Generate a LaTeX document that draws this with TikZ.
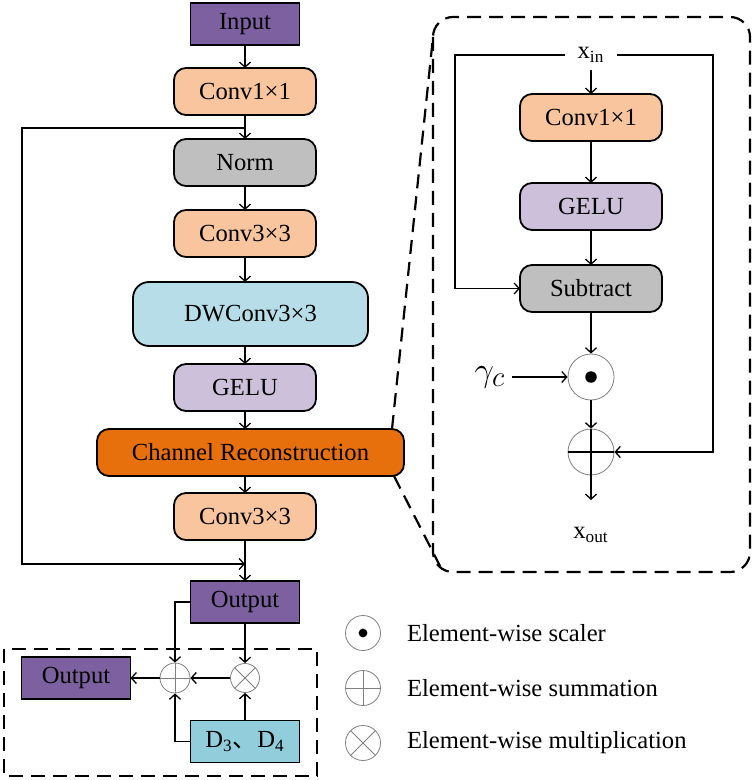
\documentclass[tikz,border=0pt]{standalone}
\usepackage{fontspec}
\setmainfont{Liberation Serif}
\newfontfamily\cjk{Noto Sans CJK SC}
\usetikzlibrary{arrows.meta, positioning}

\definecolor{iopurple}{RGB}{125,96,160}
\definecolor{convorange}{RGB}{248,197,158}
\definecolor{normgray}{RGB}{191,191,191}
\definecolor{dwblue}{RGB}{183,222,232}
\definecolor{gelupurple}{RGB}{204,192,218}
\definecolor{crorange}{RGB}{232,112,12}
\definecolor{dblue}{RGB}{146,205,220}

\tikzset{
    opsum/.style={circle, draw=black!50, line width=0.4pt, inner sep=0pt, minimum size=#1,
        path picture={\draw[black!50, line width=0.4pt] (path picture bounding box.north) -- (path picture bounding box.south)
            (path picture bounding box.west) -- (path picture bounding box.east);}},
    opmul/.style={circle, draw=black!50, line width=0.4pt, inner sep=0pt, minimum size=#1,
        path picture={\draw[black!50, line width=0.4pt] (path picture bounding box.north west) -- (path picture bounding box.south east)
            (path picture bounding box.south west) -- (path picture bounding box.north east);}},
    opdot/.style={circle, draw=black!50, line width=0.4pt, inner sep=0pt, minimum size=#1,
        path picture={\fill (path picture bounding box.center) circle (#1/8);}}
}

\begin{document}
\begin{tikzpicture}[
    x=0.5pt, y=-0.5pt,
    txt/.style={font=\fontsize{12.3}{14}\selectfont},
    box/.style={txt, draw, rectangle, rounded corners=6pt, align=center, minimum height=23.5pt, minimum width=71pt, inner sep=0pt, outer sep=0pt, line width=0.9pt},
    io/.style={txt, draw, rectangle, minimum height=21pt, minimum width=54.5pt, inner sep=0pt, outer sep=0pt, line width=0.9pt, fill=iopurple},
    arrow/.style={-{Straight Barb[length=2.5pt, width=5.5pt]}, line width=0.65pt},
    line/.style={line width=0.65pt},
    zoomline/.style={dash pattern=on 7pt off 4pt, line width=1.1pt}
]
\useasboundingbox (0,0) rectangle (754,780);

% Main branch
\node (input) [io] at (245,24) {Input};
\node (conv1) [box, fill=convorange, below=11.5pt of input] {Conv1×1};
\node (norm) [box, fill=normgray, below=12pt of conv1] {Norm};
\node (conv3) [box, fill=convorange, below=12pt of norm] {Conv3×3};
\node (dw) [box, fill=dwblue, minimum width=117.5pt, minimum height=32pt, rounded corners=8pt, below=12.5pt of conv3, xshift=2.75pt] {DWConv3×3};
\node (gelu) [box, fill=gelupurple, below=9pt of dw, xshift=-2.75pt] {GELU};
\node (cr) [box, fill=crorange, minimum width=153.5pt, below=9pt of gelu, xshift=2.75pt] {Channel Reconstruction};
\node (conv3b) [box, fill=convorange, below=8.5pt of cr, xshift=-2.75pt] {Conv3×3};
\node (out1) [io, below=20.5pt of conv3b] {Output};

\coordinate (split) at (245,128);
\coordinate (merge) at (245,564);

\draw [arrow] (input) -- (conv1);
\draw [arrow] (conv1) -- (norm);
\draw [arrow] (norm) -- (conv3);
\draw [arrow] (conv3.south) -- (conv3.south |- dw.north);
\draw [arrow] (dw.south -| gelu.north) -- (gelu.north);
\draw [arrow] (gelu.south) -- (gelu.south |- cr.north);
\draw [arrow] (cr.south -| conv3b.north) -- (conv3b.north);
\draw [arrow] (conv3b) -- (out1);
\draw [arrow] (split) -- ++(-223,0) |- (merge);

% Fusion block
\draw [zoomline] (4,649) rectangle (317,776);
\node (out2) [io] at (76,678) {Output};
\node (fsum) [opsum=15pt] at (175,678) {};
\node (fmul) [opmul=14.5pt] at (245,678) {};
\node (dd) [io, fill=dblue] at (245,741.5) {D\textsubscript{3}{\cjk 、}D\textsubscript{4}};

\draw [arrow] (out1.west) -| (fsum.north);
\draw [arrow] (out1.south) -- (fmul.north);
\draw [arrow] (fmul.west) -- (fsum.east);
\draw [arrow] (fsum.west) -- (out2.east);
\draw [arrow] (dd.west) -| (fsum.south);
\draw [arrow] (dd.north) -- (fmul.south);

% Channel Reconstruction detail
\draw [zoomline, rounded corners=10pt] (433,17) rectangle (750,572);
\draw [zoomline] (cr.north east) ++(-12,0) -- (433,37);
\draw [zoomline] (cr.south east) ++(-10,0) -- (440,566);

\node (xin) [txt, inner xsep=6pt] at (591,55) {x\textsubscript{in}};
\node (rconv) [box, fill=convorange] at (591,117.5) {Conv1×1};
\node (rgelu) [box, fill=gelupurple] at (591,206.5) {GELU};
\node (rsub) [box, fill=normgray] at (591,288.5) {Subtract};
\node (rscale) [opdot=23pt] at (591,377) {};
\node (rsum) [opsum=23pt] at (591,452) {};
\node (gamma) [font=\fontsize{19}{20}\selectfont] at (490,377) {$\gamma_c$};
\node (xout) [txt] at (591,535) {x\textsubscript{out}};
\coordinate (outtip) at (591,500);

\draw [arrow] (xin) -- (rconv);
\draw [arrow] (rconv) -- (rgelu);
\draw [arrow] (rgelu) -- (rsub);
\draw [arrow] (rsub) -- (rscale);
\draw [arrow] (gamma) -- (rscale);
\draw [arrow] (rscale) -- (rsum);
\draw [arrow] (rsum.north) -- (outtip);
\draw [arrow] (xin.west) -- (455,55) |- (rsub.west);
\draw [arrow] (xin.east) -- (713,55) |- (rsum.east);
\draw [line] (rsum.east) -- (rsum.west);

% Legend
\node (lgdot) [opdot=17.5pt] at (363,633) {};
\node (lgsum) [opsum=17.5pt] at (363,688) {};
\node (lgmul) [opmul=17.5pt] at (363,743) {};
\node [txt, anchor=west] at (400,633) {Element-wise scaler};
\node [txt, anchor=west] at (400,688) {Element-wise summation};
\node [txt, anchor=west] at (400,743) {Element-wise multiplication};

\end{tikzpicture}
\end{document}
